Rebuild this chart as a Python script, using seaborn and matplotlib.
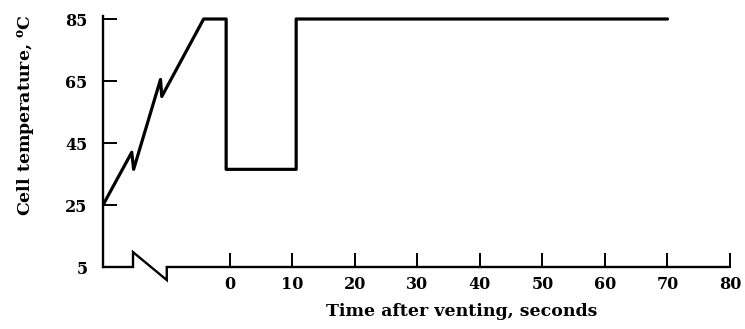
import matplotlib
matplotlib.use("Agg")
import matplotlib.pyplot as plt
import seaborn as sns
import pandas as pd

# cell temperature trace (time in s, temperature in deg C)
time_s = [-20.3, -15.7, -15.4, -11.1, -10.9, -4.2, -0.6, -0.6, 10.6, 10.6, 70.0]
temp_c = [25.0, 42.0, 36.5, 65.5, 60.0, 85.0, 85.0, 36.5, 36.5, 85.0, 85.0]

x_ticks = [0, 10, 20, 30, 40, 50, 60, 70, 80]
y_ticks = [5, 25, 45, 65, 85]

# bottom axis with a break symbol before zero
break_x = [-20.3, -15.5, -15.5, -10.1, -10.1, 80.0]
break_y = [5.0, 5.0, 9.8, 0.8, 5.0, 5.0]

df = pd.DataFrame({"Time": time_s, "Temp": temp_c})

sns.set_theme(style="ticks")
plt.rcParams["font.family"] = ["DejaVu Serif"]
plt.rcParams["mathtext.fontset"] = "dejavuserif"
plt.rcParams["text.color"] = "black"
plt.rcParams["axes.labelcolor"] = "black"

fig = plt.figure(figsize=(7.45, 3.29), dpi=100)
ax = fig.add_axes([103 / 745, 62 / 329, 627 / 745, 251.1 / 329])

sns.lineplot(data=df, x="Time", y="Temp", sort=False, estimator=None,
             color="black", linewidth=2.3, ax=ax)

ax.plot(break_x, break_y, color="black", linewidth=1.7, clip_on=False,
        solid_joinstyle="miter")

ax.set_xlim(-20.3, 80)
ax.set_ylim(5, 86)
ax.set_xticks(x_ticks)
ax.set_yticks(y_ticks)

for side in ["top", "right", "bottom"]:
    ax.spines[side].set_visible(False)
ax.spines["left"].set_linewidth(1.7)
ax.spines["left"].set_color("black")

ax.tick_params(axis="both", direction="in", length=10, width=1.4,
               colors="black", labelsize=11.5)
ax.tick_params(axis="y", pad=11)
ax.tick_params(axis="x", pad=6.5)
for lbl in ax.get_xticklabels() + ax.get_yticklabels():
    lbl.set_fontweight("bold")

ax.set_xlabel("Time after venting, seconds", fontsize=12.5, fontweight="bold")
ax.set_ylabel("Cell temperature, $^{\\mathbf{o}}$C", fontsize=12.5,
              fontweight="bold")
ax.xaxis.set_label_coords(0.572, -0.143)
ax.yaxis.set_label_coords(-0.105, 0.605)

fig.savefig("out.png", dpi=100)
